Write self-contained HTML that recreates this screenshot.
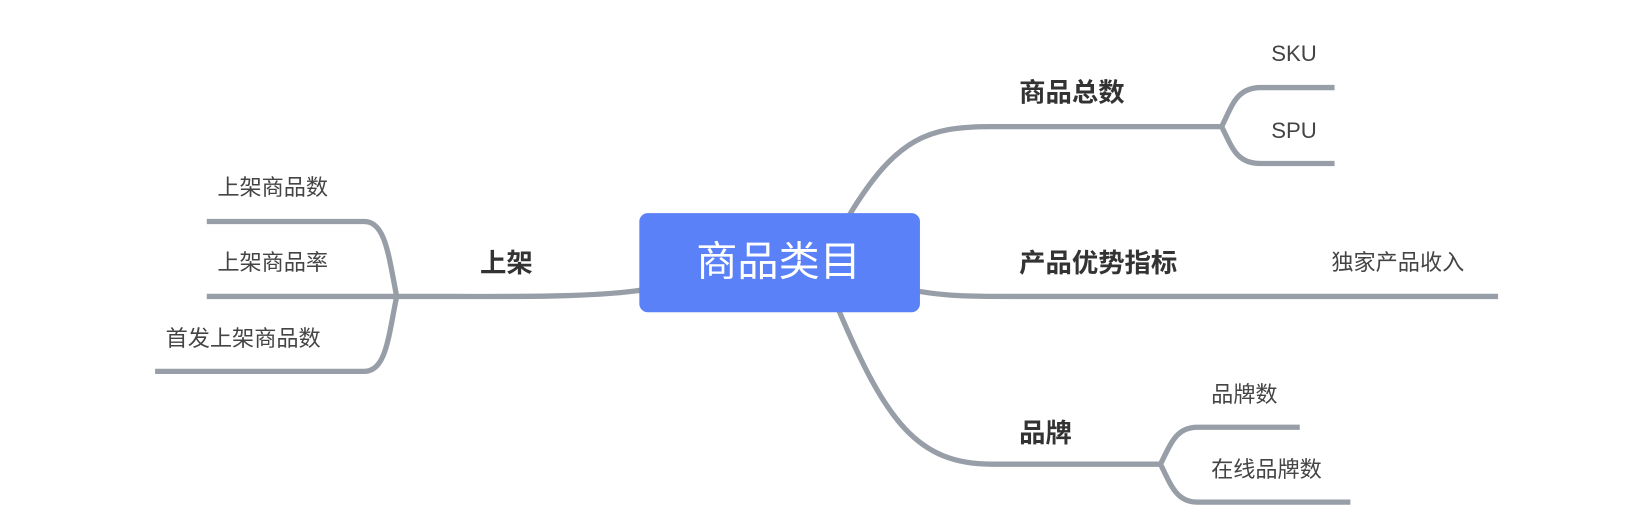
<!DOCTYPE html>
<html><head><meta charset="utf-8"><style>
html,body{margin:0;padding:0;background:#fff;width:1650px;height:528px;overflow:hidden}
text{font-family:"Liberation Sans","Noto Sans CJK SC",sans-serif}
</style></head><body>
<svg width="1650" height="528" viewBox="0 0 1564 500.5" preserveAspectRatio="none" xmlns="http://www.w3.org/2000/svg">
<g fill="none" stroke="#979ea7" stroke-width="5" stroke-linecap="butt">
<path d="M608 275 C560 282 480 281 430 281 L376 281"/>
<path d="M376 281 C368 240 365 210 345 210 L196 210"/>
<path d="M376 281 L196 281"/>
<path d="M376 281 C368 320 366 352 345 352 L147 352"/>
<path d="M805 204 C850 130 880 120 940 120 L1158 120"/>
<path d="M1158 120 C1168 100 1172 83 1195 83 L1265 83"/>
<path d="M1158 120 C1168 140 1172 155 1195 155 L1265 155"/>
<path d="M870 276 C900 281 920 281 960 281 L1420 281"/>
<path d="M795 294 C840 400 870 440 940 440 L1100 440"/>
<path d="M1100 440 C1110 420 1115 405 1135 405 L1232 405"/>
<path d="M1100 440 C1110 460 1115 476 1135 476 L1280 476"/>
</g>
<rect x="606" y="202" width="266" height="94" rx="8" fill="#5a81f7"/>
<text x="738" y="261" fill="#fff" font-size="39" text-anchor="middle">商品类目</text>
<g fill="#333" font-weight="bold" font-size="25">
<text x="455" y="258">上架</text>
<text x="966" y="96">商品总数</text>
<text x="966" y="258">产品优势指标</text>
<text x="966" y="419">品牌</text>
</g>
<g fill="#444" font-size="21">
<text x="206" y="185">上架商品数</text>
<text x="206" y="256">上架商品率</text>
<text x="157" y="328">首发上架商品数</text>
<text x="1205" y="58">SKU</text>
<text x="1205" y="131">SPU</text>
<text x="1262" y="256">独家产品收入</text>
<text x="1148" y="381">品牌数</text>
<text x="1148" y="452">在线品牌数</text>
</g>
</svg>
</body></html>
